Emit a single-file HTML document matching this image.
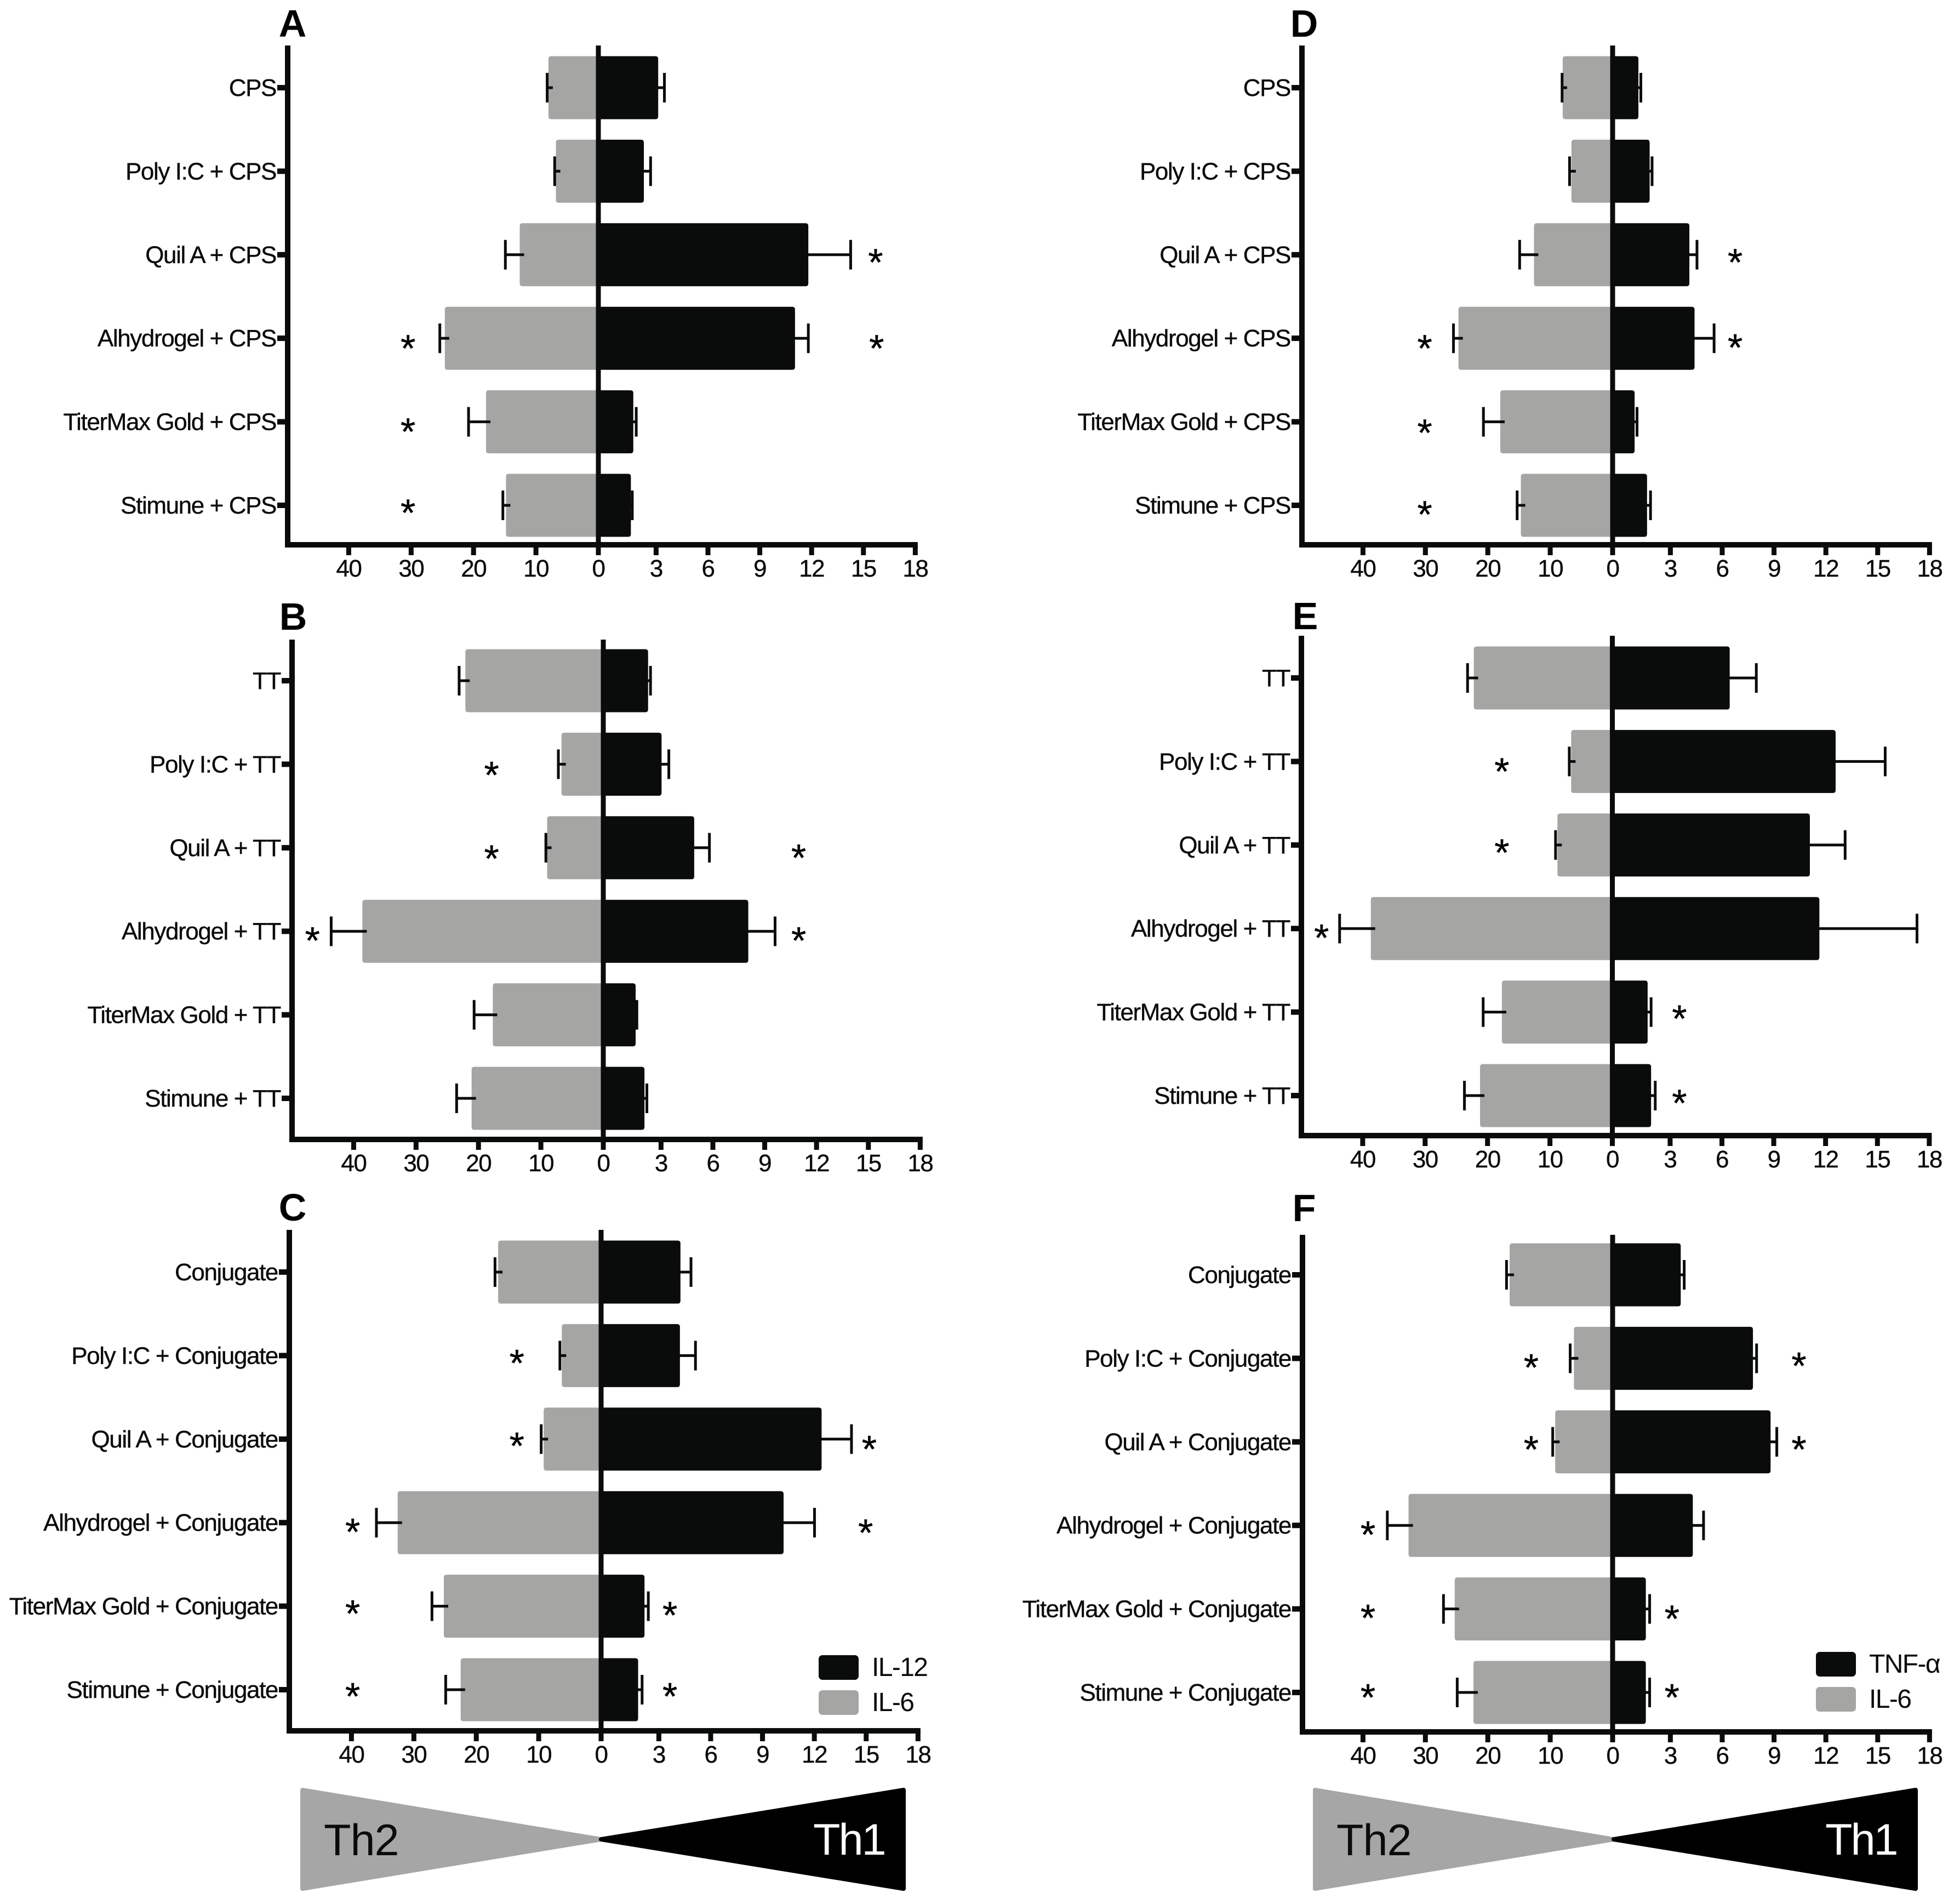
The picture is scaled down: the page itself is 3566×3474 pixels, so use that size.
<!DOCTYPE html>
<html lang="en">
<head>
<meta charset="utf-8">
<title>Th1 / Th2 cytokine responses</title>
<style>
html,body{margin:0;padding:0;background:#fff;width:3566px;height:3474px;overflow:hidden}
svg{display:block;font-family:"Liberation Sans",Arial,sans-serif}
</style>
</head>
<body>
<svg id="chart" xmlns="http://www.w3.org/2000/svg" width="3566" height="3474" viewBox="0 0 3566 3474">
<rect width="3566" height="3474" fill="#fff"/>
</svg>
<script>
// ---- tick labels
const leftTicks = [40, 30, 20, 10, 0];
const rightTicks = [3, 6, 9, 12, 15, 18];

// ---- categories
const categoriesCPS = ["CPS", "Poly I:C + CPS", "Quil A + CPS", "Alhydrogel + CPS", "TiterMax Gold + CPS", "Stimune + CPS"];
const categoriesTT = ["TT", "Poly I:C + TT", "Quil A + TT", "Alhydrogel + TT", "TiterMax Gold + TT", "Stimune + TT"];
const categoriesConj = ["Conjugate", "Poly I:C + Conjugate", "Quil A + Conjugate", "Alhydrogel + Conjugate", "TiterMax Gold + Conjugate", "Stimune + Conjugate"];

// ---- panel A (IL-6 / IL-12, CPS)
const il6A = [8, 6.8, 12.6, 24.6, 18, 14.8];
const il6ErrA = [8.2, 7, 14.9, 25.4, 20.8, 15.3];
const th1A = [3.12, 2.29, 11.81, 11.04, 1.68, 1.54];
const th1ErrA = [3.48, 2.68, 14.26, 11.81, 1.85, 1.62];
const starsLeftA = [[3.06, 30.5], [4.06, 30.5], [5.03, 30.5]];
const starsRightA = [[2.03, 15.7], [3.06, 15.76]];

// ---- panel B (IL-6 / IL-12, TT)
const il6B = [22.1, 6.7, 9, 38.6, 17.7, 21.1];
const il6ErrB = [23.1, 7.2, 9.2, 43.6, 20.7, 23.5];
const th1B = [2.25, 3.03, 4.92, 8.05, 1.53, 2.04];
const th1ErrB = [2.39, 3.45, 5.8, 9.6, 1.6, 2.18];
const starsLeftB = [[1.07, 17.9], [2.07, 17.9], [3.05, 46.6]];
const starsRightB = [[2.06, 10.97], [3.05, 10.97]];

// ---- panel C (IL-6 / IL-12, conjugate)
const il6C = [16.5, 6.3, 9.2, 32.6, 25.2, 22.5];
const il6ErrC = [17, 6.6, 9.6, 36, 27.1, 24.9];
const th1C = [4.25, 4.22, 12.42, 10.22, 2.17, 1.8];
const th1ErrC = [4.86, 5.12, 14.15, 12.01, 2.39, 2.03];
const starsLeftC = [[1.03, 13.5], [2.02, 13.5], [3.05, 39.8], [4.03, 39.8], [5.02, 39.8]];
const starsRightC = [[2.06, 15.18], [3.06, 14.97], [4.05, 3.64], [5.02, 3.64]];

// ---- panel D (IL-6 / TNF-a, CPS)
const il6D = [8, 6.6, 12.6, 24.7, 18, 14.7];
const il6ErrD = [8.1, 6.9, 14.9, 25.5, 20.7, 15.3];
const th1D = [1.15, 1.8, 4.1, 4.4, 0.93, 1.65];
const th1ErrD = [1.29, 1.94, 4.54, 5.53, 1.07, 1.85];
const starsLeftD = [[3.06, 30.1], [4.07, 30.1], [5.05, 30.1]];
const starsRightD = [[2.03, 6.75], [3.05, 6.75]];

// ---- panel E (IL-6 / TNF-a, TT)
const il6E = [22.2, 6.6, 8.8, 38.7, 17.7, 21.2];
const il6ErrE = [23.2, 6.9, 9.1, 43.7, 20.7, 23.7];
const th1E = [6.45, 12.58, 11.09, 11.64, 1.7, 1.9];
const th1ErrE = [7.99, 15.45, 13.13, 17.29, 1.9, 2.14];
const starsLeftE = [[1.06, 17.7], [2.03, 17.7], [3.05, 46.6]];
const starsRightE = [[4.02, 3.54], [5.03, 3.54]];

// ---- panel F (IL-6 / TNF-a, conjugate)
const il6F = [16.5, 6.2, 9.2, 32.7, 25.3, 22.3];
const il6ErrF = [17, 6.8, 9.6, 36.1, 27.1, 24.9];
const th1F = [3.6, 7.78, 8.8, 4.3, 1.58, 1.58];
const th1ErrF = [3.8, 7.99, 9.16, 4.92, 1.8, 1.8];
const starsLeftF = [[1.05, 13.05], [2.03, 13.05], [3.05, 39.2], [4.05, 39.2], [5, 39.2]];
const starsRightF = [[1.03, 10.44], [2.03, 10.44], [4.06, 3.09], [5, 3.09]];

// ---- legend text
const legendIL12 = ["IL-12", "IL-6"];
const legendTNF = ["TNF-\u03b1", "IL-6"];

// ---- layout
const BLACK = "#0a0c0b", GREY = "#a5a5a3";
const LEFT_PER_UNIT = 11.39, RIGHT_OFFSET = 10.8, RIGHT_PER_UNIT = 31.53, ROW_STEP = 152.4, HALF_BAR = 57.5;
const svg = document.getElementById("chart");
const NS = "http://www.w3.org/2000/svg";

function shape(parent, tag, attrs) {
  const n = document.createElementNS(NS, tag);
  for (const k in attrs) n.setAttribute(k, attrs[k]);
  parent.appendChild(n);
  return n;
}

function drawPanel(p) {
  const xL = v => p.zero - v * LEFT_PER_UNIT;
  const xR = v => v === 0 ? p.zero : p.zero + RIGHT_OFFSET + v * RIGHT_PER_UNIT;
  const yRow = i => p.row0 + i * ROW_STEP;

  const g = shape(svg, "g", {});
  
  

  const letter = shape(g, "text", {x: p.letterX, y: p.letterY, "font-size": 70, "font-weight": "bold", "text-anchor": "middle", fill: "#000"});
  letter.textContent = p.id;
  
  

  p.categories.forEach((c, i) => {
    const y = yRow(i);
    const r = 5, x0 = xL(p.left[i]), x1 = p.zero - 4, x2 = xR(p.right[i]);

    const gb = shape(g, "path", {fill: GREY, d: `M${x1} ${y - HALF_BAR}H${x0 + r}Q${x0} ${y - HALF_BAR} ${x0} ${y - HALF_BAR + r}V${y + HALF_BAR - r}Q${x0} ${y + HALF_BAR} ${x0 + r} ${y + HALF_BAR}H${x1}Z`});
    
    

    const bb = shape(g, "path", {fill: BLACK, d: `M${x1} ${y - HALF_BAR}H${x2 - r}Q${x2} ${y - HALF_BAR} ${x2} ${y - HALF_BAR + r}V${y + HALF_BAR - r}Q${x2} ${y + HALF_BAR} ${x2 - r} ${y + HALF_BAR}H${x1}Z`});
    
    

    const capL = xL(p.leftErr[i]);
    const el1 = shape(g, "path", {fill: "none", stroke: BLACK, "stroke-width": 5, d: `M${capL} ${y - 27}V${y + 27}M${capL} ${y}H${x0 + 8}`});
    
    

    const capR = xR(p.rightErr[i]);
    const el2 = shape(g, "path", {fill: "none", stroke: BLACK, "stroke-width": 5, d: `M${capR} ${y - 27}V${y + 27}M${capR} ${y}H${x2 - 4}`});
    
    

    const tk = shape(g, "rect", {x: p.leftX - 19, y: y - 5, width: 14, height: 10, fill: BLACK});
    
    

    const lb = shape(g, "text", {x: p.leftX - 21, y: y + 15, "font-size": 44, "letter-spacing": -1.4, "text-anchor": "end", fill: "#0a0c0b", stroke: "#0a0c0b", "stroke-width": 0.4});
    lb.textContent = c;
    
    
  });

  const yAxis = shape(g, "rect", {x: p.leftX - 5, y: p.top, width: 10, height: p.axisY + 5 - p.top, fill: BLACK});
  
  

  const zeroLine = shape(g, "rect", {x: p.zero - 4.5, y: p.top, width: 9, height: p.axisY - p.top, fill: BLACK});
  
  

  const xAxis = shape(g, "rect", {x: p.leftX - 5, y: p.axisY - 5, width: xR(18) + 4.5 - p.leftX + 5, height: 10, fill: BLACK});
  
  

  const drawTick = (x, label) => {
    const t = shape(g, "rect", {x: x - 4.5, y: p.axisY, width: 9, height: 19, fill: BLACK});
    
    
    const l = shape(g, "text", {x: x, y: p.axisY + 58, "font-size": 44, "letter-spacing": -1.5, "text-anchor": "middle", fill: "#0a0c0b", stroke: "#0a0c0b", "stroke-width": 0.4});
    l.textContent = label;
    
    
  };
  leftTicks.forEach(v => drawTick(xL(v), v));
  rightTicks.forEach(v => drawTick(xR(v), v));

  const drawStar = (x, row) => {
    const s = shape(g, "text", {x: x, y: yRow(row) + 33, "font-size": 70, "text-anchor": "middle", fill: "#000", stroke: "#000", "stroke-width": 0.5});
    s.textContent = "*";
    
    
  };
  p.starsLeft.forEach(s => drawStar(xL(s[1]), s[0]));
  p.starsRight.forEach(s => drawStar(xR(s[1]), s[0]));
}

function drawLegend(x, y, labels) {
  const g = shape(svg, "g", {});
  
  
  [BLACK, GREY].forEach((color, i) => {
    const sy = y + i * 64;
    const sw = shape(g, "rect", {x: x, y: sy, width: 73, height: 45, rx: 7, fill: color});
    
    
    const t = shape(g, "text", {x: x + 97, y: sy + 38, "font-size": 48, "letter-spacing": -1.6, fill: "#0a0c0b"});
    t.textContent = labels[i];
    
    
  });
}

function drawBowtie(x0, tip, x1) {
  const top = 3266, bottom = 3446, mid = 3356;
  const g = shape(svg, "g", {});
  
  

  const tg = shape(g, "polygon", {points: `${x0},${top} ${tip},${mid} ${x0},${bottom}`, fill: "#a6a6a6", stroke: "#a6a6a6", "stroke-width": 8, "stroke-linejoin": "round"});
  
  

  const tb = shape(g, "polygon", {points: `${x1},${top} ${tip},${mid} ${x1},${bottom}`, fill: "#000", stroke: "#000", "stroke-width": 8, "stroke-linejoin": "round"});
  
  

  const t2 = shape(g, "text", {x: x0 + 39, y: 3385, "font-size": 81, "letter-spacing": -1, fill: "#0a0c0b"});
  t2.textContent = "Th2";
  
  

  const t1 = shape(g, "text", {x: x1 - 165, y: 3384, "font-size": 81, "letter-spacing": -3, fill: "#fff"});
  t1.textContent = "Th1";
  
  
}

drawPanel({id: "A", th1Name: "il12", categories: categoriesCPS, left: il6A, leftErr: il6ErrA, right: th1A, rightErr: th1ErrA, starsLeft: starsLeftA, starsRight: starsRightA,
  leftX: 525, top: 83, axisY: 994, zero: 1092, row0: 160, letterX: 534, letterY: 67});
drawPanel({id: "B", th1Name: "il12", categories: categoriesTT, left: il6B, leftErr: il6ErrB, right: th1B, rightErr: th1ErrB, starsLeft: starsLeftB, starsRight: starsRightB,
  leftX: 533, top: 1167, axisY: 2079, zero: 1101, row0: 1242, letterX: 535, letterY: 1149});
drawPanel({id: "C", th1Name: "il12", categories: categoriesConj, left: il6C, leftErr: il6ErrC, right: th1C, rightErr: th1ErrC, starsLeft: starsLeftC, starsRight: starsRightC,
  leftX: 528, top: 2244, axisY: 3158, zero: 1097, row0: 2321, letterX: 534, letterY: 2227});
drawPanel({id: "D", th1Name: "tnf", categories: categoriesCPS, left: il6D, leftErr: il6ErrD, right: th1D, rightErr: th1ErrD, starsLeft: starsLeftD, starsRight: starsRightD,
  leftX: 2376, top: 83, axisY: 994, zero: 2943, row0: 160, letterX: 2380, letterY: 67});
drawPanel({id: "E", th1Name: "tnf", categories: categoriesTT, left: il6E, leftErr: il6ErrE, right: th1E, rightErr: th1ErrE, starsLeft: starsLeftE, starsRight: starsRightE,
  leftX: 2375, top: 1160, axisY: 2072, zero: 2942.5, row0: 1237, letterX: 2382, letterY: 1148});
drawPanel({id: "F", th1Name: "tnf", categories: categoriesConj, left: il6F, leftErr: il6ErrF, right: th1F, rightErr: th1ErrF, starsLeft: starsLeftF, starsRight: starsRightF,
  leftX: 2377, top: 2253, axisY: 3160, zero: 2943, row0: 2326, letterX: 2380, letterY: 2228});

drawLegend(1494, 3020, legendIL12);
drawLegend(3314, 3014, legendTNF);
drawBowtie(552, 1097, 1649);
drawBowtie(2400, 2945, 3496);
</script>
</body>
</html>
